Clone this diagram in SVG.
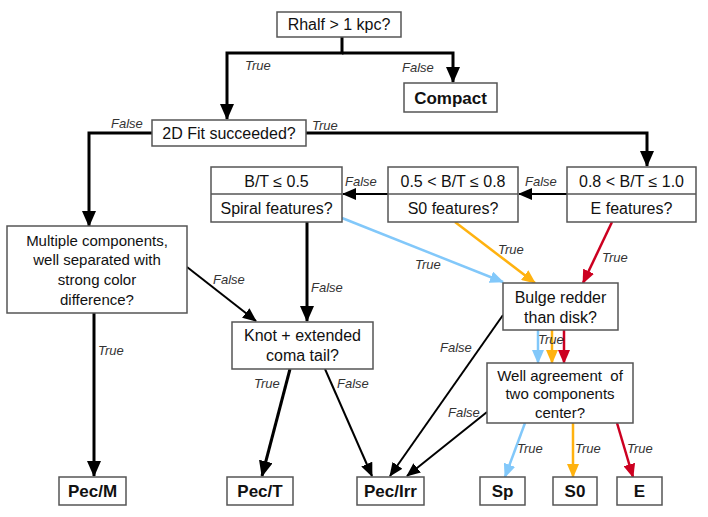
<svg xmlns="http://www.w3.org/2000/svg" width="708" height="517" viewBox="0 0 708 517">
<defs>
<style>
.box{fill:#fff;stroke:#555;stroke-width:1.5}
.t{font-family:"Liberation Sans",Arial,sans-serif;font-size:16px;fill:#111;text-anchor:middle}
.t15{font-size:15px}
.b{font-family:"Liberation Sans",Arial,sans-serif;font-size:17px;font-weight:bold;fill:#111;text-anchor:middle}
.l{font-family:"Liberation Sans",Arial,sans-serif;font-size:13px;font-style:italic;fill:#333}
.k3{fill:none;stroke:#000;stroke-width:3}
.k2{fill:none;stroke:#000;stroke-width:2}
.bl{fill:none;stroke:#82c8fa;stroke-width:2.5}
.or{fill:none;stroke:#ffb20f;stroke-width:2.5}
.rd{fill:none;stroke:#cc0020;stroke-width:2.5}
</style>
<marker id="ak" markerUnits="userSpaceOnUse" markerWidth="16" markerHeight="14" refX="15" refY="7" orient="auto"><path d="M0,0 L16,7 L0,14 Z" fill="#000"/></marker>
<marker id="aks" markerUnits="userSpaceOnUse" markerWidth="14" markerHeight="12" refX="13" refY="6" orient="auto"><path d="M0,0 L14,6 L0,12 Z" fill="#000"/></marker>
<marker id="ab" markerUnits="userSpaceOnUse" markerWidth="14" markerHeight="12" refX="13" refY="6" orient="auto"><path d="M0,0 L14,6 L0,12 Z" fill="#82c8fa"/></marker>
<marker id="ao" markerUnits="userSpaceOnUse" markerWidth="14" markerHeight="12" refX="13" refY="6" orient="auto"><path d="M0,0 L14,6 L0,12 Z" fill="#ffb20f"/></marker>
<marker id="ar" markerUnits="userSpaceOnUse" markerWidth="14" markerHeight="12" refX="13" refY="6" orient="auto"><path d="M0,0 L14,6 L0,12 Z" fill="#cc0020"/></marker>
</defs>
<rect width="708" height="517" fill="#fff"/>

<g id="connectors">
<path class="k3" d="M342,37 V53 H227 V119" marker-end="url(#ak)"/>
<path class="k3" d="M342,53 H453 V82" marker-end="url(#ak)"/>
<path class="k3" d="M152,133 H89 V226" marker-end="url(#ak)"/>
<path class="k3" d="M306,133 H647 V166" marker-end="url(#ak)"/>
<path class="k2" d="M567,194 H519" marker-end="url(#aks)"/>
<path class="k2" d="M388,194 H343" marker-end="url(#aks)"/>
<path class="k3" d="M307,222 V321" marker-end="url(#ak)"/>
<path class="k2" d="M187,267 L256,321" marker-end="url(#aks)"/>
<path class="k3" d="M94,313 V476" marker-end="url(#ak)"/>
<path class="k3" d="M290,369 L262,476" marker-end="url(#ak)"/>
<path class="k2" d="M325,369 L372,476" marker-end="url(#aks)"/>
<path class="k2" d="M503,315 L390,476" marker-end="url(#aks)"/>
<path class="k2" d="M487,412 L407,476" marker-end="url(#aks)"/>
<path class="bl" d="M342,218 L503,282" marker-end="url(#ab)"/>
<path class="or" d="M455,222 L535,283" marker-end="url(#ao)"/>
<path class="rd" d="M612,222 L583,283" marker-end="url(#ar)"/>
<path class="bl" d="M538,330 V363" marker-end="url(#ab)"/>
<path class="or" d="M552,330 V363" marker-end="url(#ao)"/>
<path class="rd" d="M564,330 V363" marker-end="url(#ar)"/>
<path class="bl" d="M525,423 L505,477" marker-end="url(#ab)"/>
<path class="or" d="M573,423 V477" marker-end="url(#ao)"/>
<path class="rd" d="M617,423 L633,477" marker-end="url(#ar)"/>
</g>

<g id="labels">
<text class="l" x="245" y="70">True</text>
<text class="l" x="402" y="72">False</text>
<text class="l" x="111" y="128">False</text>
<text class="l" x="312" y="130">True</text>
<text class="l" x="345" y="186">False</text>
<text class="l" x="525" y="186">False</text>
<text class="l" x="213" y="284">False</text>
<text class="l" x="311" y="292">False</text>
<text class="l" x="98" y="355">True</text>
<text class="l" x="415" y="269">True</text>
<text class="l" x="498" y="254">True</text>
<text class="l" x="602" y="262">True</text>
<text class="l" x="538" y="344">True</text>
<text class="l" x="440" y="352">False</text>
<text class="l" x="448" y="417">False</text>
<text class="l" x="254" y="388">True</text>
<text class="l" x="337" y="388">False</text>
<text class="l" x="517" y="453">True</text>
<text class="l" x="575" y="453">True</text>
<text class="l" x="627" y="453">True</text>
</g>

<g id="n-rhalf"><rect class="box" x="277" y="12" width="124" height="25"/><text class="t" x="339" y="30">Rhalf &gt; 1 kpc?</text></g>
<g id="n-compact"><rect class="box" x="404" y="83" width="93" height="29"/><text class="b" x="450.5" y="104">Compact</text></g>
<g id="n-fit"><rect class="box" x="152" y="120" width="154" height="26"/><text class="t" x="229" y="139">2D Fit succeeded?</text></g>
<g id="n-bt05"><rect class="box" x="211" y="167" width="131" height="55"/><line x1="211" y1="194" x2="342" y2="194" stroke="#555" stroke-width="1.5"/><text class="t" x="276.5" y="187">B/T ≤ 0.5</text><text class="t" x="276.5" y="214">Spiral features?</text></g>
<g id="n-bt08"><rect class="box" x="388" y="167" width="130" height="55"/><line x1="388" y1="194" x2="518" y2="194" stroke="#555" stroke-width="1.5"/><text class="t" x="453" y="187">0.5 &lt; B/T ≤ 0.8</text><text class="t" x="453" y="214">S0 features?</text></g>
<g id="n-bt10"><rect class="box" x="567" y="167" width="129" height="55"/><line x1="567" y1="194" x2="696" y2="194" stroke="#555" stroke-width="1.5"/><text class="t" x="631.5" y="187">0.8 &lt; B/T ≤ 1.0</text><text class="t" x="631.5" y="214">E features?</text></g>
<g id="n-multi"><rect class="box" x="7" y="226" width="180" height="87"/><text class="t t15" x="97" y="246">Multiple components,</text><text class="t t15" x="97" y="265">well separated with</text><text class="t t15" x="97" y="285">strong color</text><text class="t t15" x="97" y="305">difference?</text></g>
<g id="n-knot"><rect class="box" x="232" y="322" width="141" height="47"/><text class="t" x="302.5" y="341">Knot + extended</text><text class="t" x="302.5" y="361">coma tail?</text></g>
<g id="n-bulge"><rect class="box" x="503" y="283" width="115" height="47"/><text class="t" x="560.5" y="303">Bulge redder</text><text class="t" x="560.5" y="323">than disk?</text></g>
<g id="n-well"><rect class="box" x="487" y="363" width="146" height="60"/><text class="t t15" x="560" y="381" xml:space="preserve">Well agreement  of</text><text class="t t15" x="560" y="399">two components</text><text class="t t15" x="560" y="418">center?</text></g>
<g id="n-pecm"><rect class="box" x="59" y="477" width="67" height="28"/><text class="b" x="92.5" y="497">Pec/M</text></g>
<g id="n-pect"><rect class="box" x="227" y="477" width="66" height="28"/><text class="b" x="260" y="497">Pec/T</text></g>
<g id="n-pecirr"><rect class="box" x="357" y="477" width="67" height="28"/><text class="b" x="390.5" y="497">Pec/Irr</text></g>
<g id="n-sp"><rect class="box" x="480" y="477" width="45" height="28"/><text class="b" x="502.5" y="497">Sp</text></g>
<g id="n-s0"><rect class="box" x="553" y="477" width="44" height="28"/><text class="b" x="575" y="497">S0</text></g>
<g id="n-e"><rect class="box" x="617" y="477" width="45" height="28"/><text class="b" x="639.5" y="497">E</text></g>
</svg>
